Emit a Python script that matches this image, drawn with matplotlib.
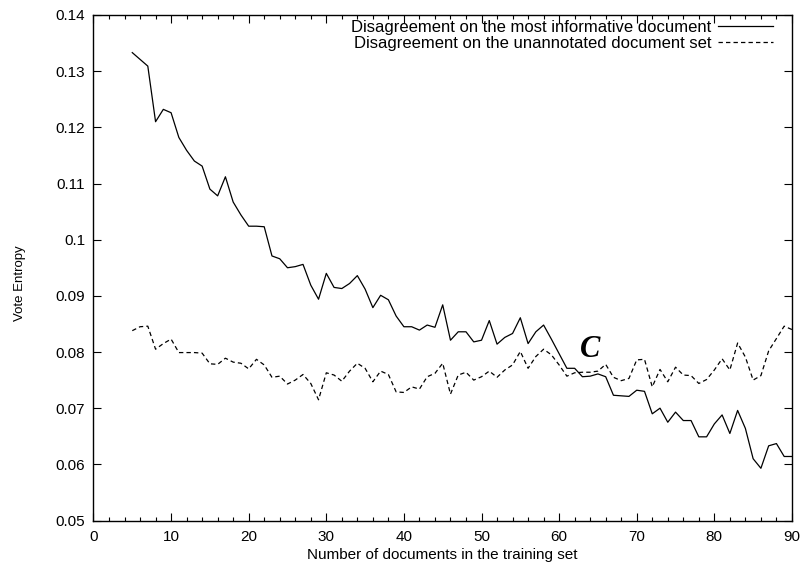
import numpy as np
import matplotlib
matplotlib.use("Agg")
import matplotlib.pyplot as plt
from matplotlib.ticker import MultipleLocator

plt.rcParams['font.family'] = ['Liberation Sans', 'DejaVu Sans']

# number of documents in the training set
docs = list(range(5, 91))

# disagreement on the most informative document (solid)
most_informative = [
    0.1333, 0.1321, 0.1309, 0.1210, 0.1232, 0.1226, 0.1182, 0.1159, 0.1140, 0.1131,
    0.1090, 0.1078, 0.1112, 0.1067, 0.1044, 0.1024, 0.1024, 0.1023, 0.0971, 0.0966,
    0.0950, 0.0952, 0.0956, 0.0919, 0.0894, 0.0940, 0.0915, 0.0913, 0.0922, 0.0936,
    0.0912, 0.0879, 0.0901, 0.0893, 0.0864, 0.0845, 0.0845, 0.0839, 0.0848, 0.0844,
    0.0884, 0.0821, 0.0836, 0.0836, 0.0818, 0.0821, 0.0856, 0.0814, 0.0826, 0.0833,
    0.0861, 0.0815, 0.0836, 0.0848, 0.0823, 0.0797, 0.0771, 0.0771, 0.0756, 0.0757,
    0.0761, 0.0756, 0.0723, 0.0722, 0.0721, 0.0732, 0.0730, 0.0690, 0.0700, 0.0675,
    0.0693, 0.0678, 0.0678, 0.0649, 0.0649, 0.0672, 0.0688, 0.0655, 0.0696, 0.0664,
    0.0610, 0.0593, 0.0633, 0.0637, 0.0614, 0.0614,
]

# disagreement on the unannotated document set (dashed)
unannotated = [
    0.0838, 0.0845, 0.0846, 0.0805, 0.0815, 0.0823, 0.0799, 0.0799, 0.0799, 0.0798,
    0.0779, 0.0778, 0.0789, 0.0782, 0.0780, 0.0770, 0.0787, 0.0777, 0.0755, 0.0757,
    0.0743, 0.0750, 0.0760, 0.0744, 0.0715, 0.0763, 0.0759, 0.0748, 0.0766, 0.0780,
    0.0771, 0.0747, 0.0766, 0.0760, 0.0729, 0.0728, 0.0738, 0.0734, 0.0756, 0.0762,
    0.0780, 0.0725, 0.0759, 0.0764, 0.0750, 0.0756, 0.0766, 0.0755, 0.0768, 0.0777,
    0.0801, 0.0771, 0.0792, 0.0805, 0.0795, 0.0777, 0.0757, 0.0763, 0.0764, 0.0764,
    0.0766, 0.0778, 0.0755, 0.0749, 0.0753, 0.0786, 0.0787, 0.0738, 0.0769, 0.0747,
    0.0773, 0.0759, 0.0758, 0.0744, 0.0751, 0.0768, 0.0788, 0.0768, 0.0816, 0.0791,
    0.0750, 0.0758, 0.0802, 0.0824, 0.0846, 0.0840,
]

labels = ["Disagreement on the most informative document",
          "Disagreement on the unannotated document set"]

fig = plt.figure(figsize=(8.01, 5.70), dpi=100)
ax = fig.add_axes([0.1167, 0.0868, 0.872, 0.8869])

ax.plot(docs, most_informative, color="black", linewidth=0.9, label=labels[0])
ax.plot(docs, unannotated, color="black", linewidth=0.9, linestyle=(0, (3.5, 2.5)),
        label=labels[1])

ax.set_xlim(0, 90)
ax.set_ylim(0.05, 0.14)
ax.xaxis.set_major_locator(MultipleLocator(10))
ax.xaxis.set_minor_locator(MultipleLocator(2))
ax.set_yticks(np.round(np.arange(0.05, 0.1401, 0.01), 2))
ax.set_yticklabels(["0.05", "0.06", "0.07", "0.08", "0.09", "0.1",
                    "0.11", "0.12", "0.13", "0.14"])
ax.tick_params(which="both", direction="in", top=True, right=True, labelsize=11,
               width=0.8, colors="black")
ax.tick_params(which="major", length=6)
ax.tick_params(axis="x", which="major", pad=7)
ax.tick_params(axis="y", which="major", pad=6)
ax.tick_params(which="minor", length=3)
for s in ax.spines.values():
    s.set_linewidth(1.0)

ax.set_xlabel("Number of documents in the training set", fontsize=11, labelpad=3)
ax.set_ylabel("Vote Entropy", fontsize=9.5)
ax.yaxis.set_label_coords(-0.096, 0.47)

ax.legend(loc="upper right", frameon=False, markerfirst=False, fontsize=12,
          handlelength=3.3, handletextpad=0.4, labelspacing=0.05,
          borderaxespad=0.0, bbox_to_anchor=(0.983, 1.003))

ax.text(64, 0.0805, "C", fontsize=22, style="italic", fontweight="bold",
        family="Liberation Serif", ha="center", va="center")

fig.savefig("out.png", dpi=100)
